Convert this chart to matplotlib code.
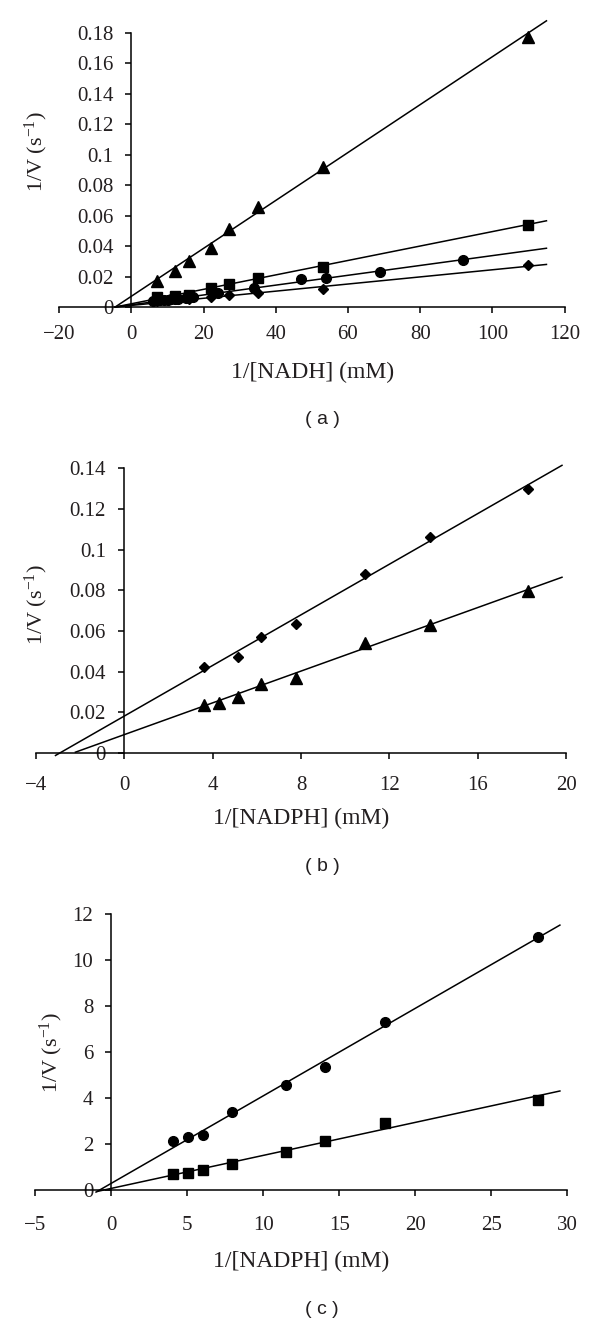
import numpy as np
import matplotlib
matplotlib.use("Agg")
import matplotlib.pyplot as plt
from matplotlib.ticker import FuncFormatter

plt.rcParams['font.family'] = ['Liberation Serif', 'DejaVu Serif']
plt.rcParams['mathtext.fontset'] = 'custom'
plt.rcParams['mathtext.rm'] = 'Liberation Serif'
plt.rcParams['mathtext.it'] = 'Liberation Serif:italic'
plt.rcParams['axes.unicode_minus'] = True

# ---------------- Panel (a) data: 1/V vs 1/[NADH] ----------------
a_tri_x = [7, 12, 16, 22, 27, 35, 53, 110]
a_tri_y = [0.017, 0.0235, 0.030, 0.0385, 0.051, 0.066, 0.092, 0.1775]
a_sq_x = [7, 12, 16, 22, 27, 35, 53, 110]
a_sq_y = [0.0068, 0.0072, 0.0076, 0.0127, 0.0153, 0.019, 0.0265, 0.054]
a_ci_x = [6, 7, 8, 9, 10, 11, 12, 13, 15, 16, 17, 24, 34, 47, 54, 69, 92]
a_ci_y = [0.004, 0.0045, 0.0045, 0.0045, 0.0045, 0.005, 0.005, 0.0055, 0.006,
          0.0063, 0.0067, 0.009, 0.0125, 0.0184, 0.019, 0.0232, 0.0306]
a_di_x = [7, 12, 16, 22, 27, 35, 53, 110]
a_di_y = [0.004, 0.005, 0.0052, 0.0064, 0.0079, 0.0092, 0.0116, 0.0278]
# fitted lines (intercept, slope), drawn over a_fit_range
a_fit_tri = (0.0071, 0.001573)
a_fit_sq = (0.00213, 0.000474)
a_fit_ci = (0.00145, 0.000323)
a_fit_di = (0.00105, 0.000234)
a_fit_range = (-4.5, 115)
a_xticks = [-20, 0, 20, 40, 60, 80, 100, 120]
a_yticks = [0, 0.02, 0.04, 0.06, 0.08, 0.1, 0.12, 0.14, 0.16, 0.18]

# ---------------- Panel (b) data: 1/V vs 1/[NADPH] ----------------
b_di_x = [3.6, 5.16, 6.2, 7.79, 10.9, 13.85, 18.27]
b_di_y = [0.0422, 0.0472, 0.057, 0.0636, 0.0879, 0.1063, 0.130]
b_tri_x = [3.6, 4.28, 5.16, 6.2, 7.79, 10.9, 13.85, 18.27]
b_tri_y = [0.0237, 0.0245, 0.0274, 0.034, 0.037, 0.0542, 0.0628, 0.0797]
b_fit_di = (0.0181, 0.00623)
b_fit_di_range = (-3.1, 19.8)
b_fit_tri = (0.009, 0.00391)
b_fit_tri_range = (-2.2, 19.8)
b_xticks = [-4, 0, 4, 8, 12, 16, 20]
b_yticks = [0, 0.02, 0.04, 0.06, 0.08, 0.1, 0.12, 0.14]

# ---------------- Panel (c) data: 1/V vs 1/[NADPH] ----------------
c_ci_x = [4.07, 5.03, 6.03, 7.92, 11.5, 14.08, 18.03, 28.04]
c_ci_y = [2.13, 2.32, 2.38, 3.41, 4.57, 5.37, 7.33, 11.03]
c_sq_x = [4.07, 5.03, 6.03, 7.92, 11.5, 14.08, 18.03, 28.04]
c_sq_y = [0.70, 0.755, 0.87, 1.12, 1.67, 2.13, 2.93, 3.92]
c_fit_ci = (0.29, 0.381)
c_fit_ci_range = (-1.0, 29.5)
c_fit_sq = (0.07, 0.1437)
c_fit_sq_range = (-0.9, 29.5)
c_xticks = [-5, 0, 5, 10, 15, 20, 25, 30]
c_yticks = [0, 2, 4, 6, 8, 10, 12]

W, H = 600, 1323
TXT = '#231f20'
fig = plt.figure(figsize=(W / 100, H / 100), dpi=100)


def rect(left, right, top, bottom):
    return [left / W, 1 - bottom / H, (right - left) / W, (bottom - top) / H]


def fmt(v, pos):
    s = ('%g' % v)
    return s.replace('-', '\u2212')


def style(ax, xticks, yticks, xpad):
    ax.set_xlim(xticks[0], xticks[-1])
    ax.set_ylim(yticks[0], yticks[-1])
    ax.set_xticks(xticks)
    ax.set_yticks(yticks)
    ax.xaxis.set_major_formatter(FuncFormatter(fmt))
    ax.yaxis.set_major_formatter(FuncFormatter(fmt))
    ax.spines['top'].set_visible(False)
    ax.spines['right'].set_visible(False)
    ax.spines['left'].set_position(('data', 0))
    for s in ('left', 'bottom'):
        ax.spines[s].set_linewidth(1.1)
    ax.tick_params(axis='x', direction='out', length=4, width=1.1,
                   labelsize=15, pad=xpad, labelcolor=TXT)
    ax.tick_params(axis='y', direction='out', length=4, width=1.1,
                   labelsize=15, pad=9, labelcolor=TXT)
    ax.patch.set_alpha(0)


def fitline(ax, fit, rng):
    xs = np.array(rng)
    ax.plot(xs, fit[0] + fit[1] * xs, color='black', lw=1.1, clip_on=False,
            zorder=2)


def pts(ax, x, y, marker, ms):
    ax.plot(x, y, linestyle='none', marker=marker, ms=ms, color='black',
            mec='black', clip_on=False, zorder=3)


# ---- (a)
axa = fig.add_axes(rect(59.3, 564.5, 33, 307))
style(axa, a_xticks, a_yticks, 9.2)
for fit in (a_fit_tri, a_fit_sq, a_fit_ci, a_fit_di):
    fitline(axa, fit, a_fit_range)
pts(axa, a_tri_x, a_tri_y, '^', 8)
pts(axa, a_sq_x, a_sq_y, 's', 7.3)
pts(axa, a_ci_x, a_ci_y, 'o', 7)
pts(axa, a_di_x, a_di_y, 'D', 4.8)

# ---- (b)
axb = fig.add_axes(rect(35.6, 566.4, 468.3, 753))
style(axb, b_xticks, b_yticks, 12.2)
fitline(axb, b_fit_di, b_fit_di_range)
fitline(axb, b_fit_tri, b_fit_tri_range)
pts(axb, b_di_x, b_di_y, 'D', 4.8)
pts(axb, b_tri_x, b_tri_y, '^', 8)

# ---- (c)
axc = fig.add_axes(rect(35.2, 567.5, 914.3, 1190))
style(axc, c_xticks, c_yticks, 14.7)
fitline(axc, c_fit_ci, c_fit_ci_range)
fitline(axc, c_fit_sq, c_fit_sq_range)
pts(axc, c_ci_x, c_ci_y, 'o', 7)
pts(axc, c_sq_x, c_sq_y, 's', 7.3)

ylab = '1/V (s$^{\u22121}$)'


def ftext(x, y, s, **kw):
    fig.text(x / W, 1 - y / H, s, ha='center', va='center', **kw)


ftext(36.7, 152, ylab, rotation=90, fontsize=16, color=TXT)
ftext(36.4, 605, ylab, rotation=90, fontsize=16, color=TXT)
ftext(51.7, 1053, ylab, rotation=90, fontsize=16, color=TXT)

ftext(313, 372, '1/[NADH] (mM)', fontsize=17, color=TXT)
ftext(301, 818, '1/[NADPH] (mM)', fontsize=17, color=TXT)
ftext(301, 1261, '1/[NADPH] (mM)', fontsize=17, color=TXT)

for y, lab in ((420, '( a )'), (866.5, '( b )'), (1310, '( c )')):
    ftext(322, y, lab, fontsize=14, color=TXT,
          family=['Liberation Sans', 'DejaVu Sans'])

fig.savefig('out.png', dpi=100)
